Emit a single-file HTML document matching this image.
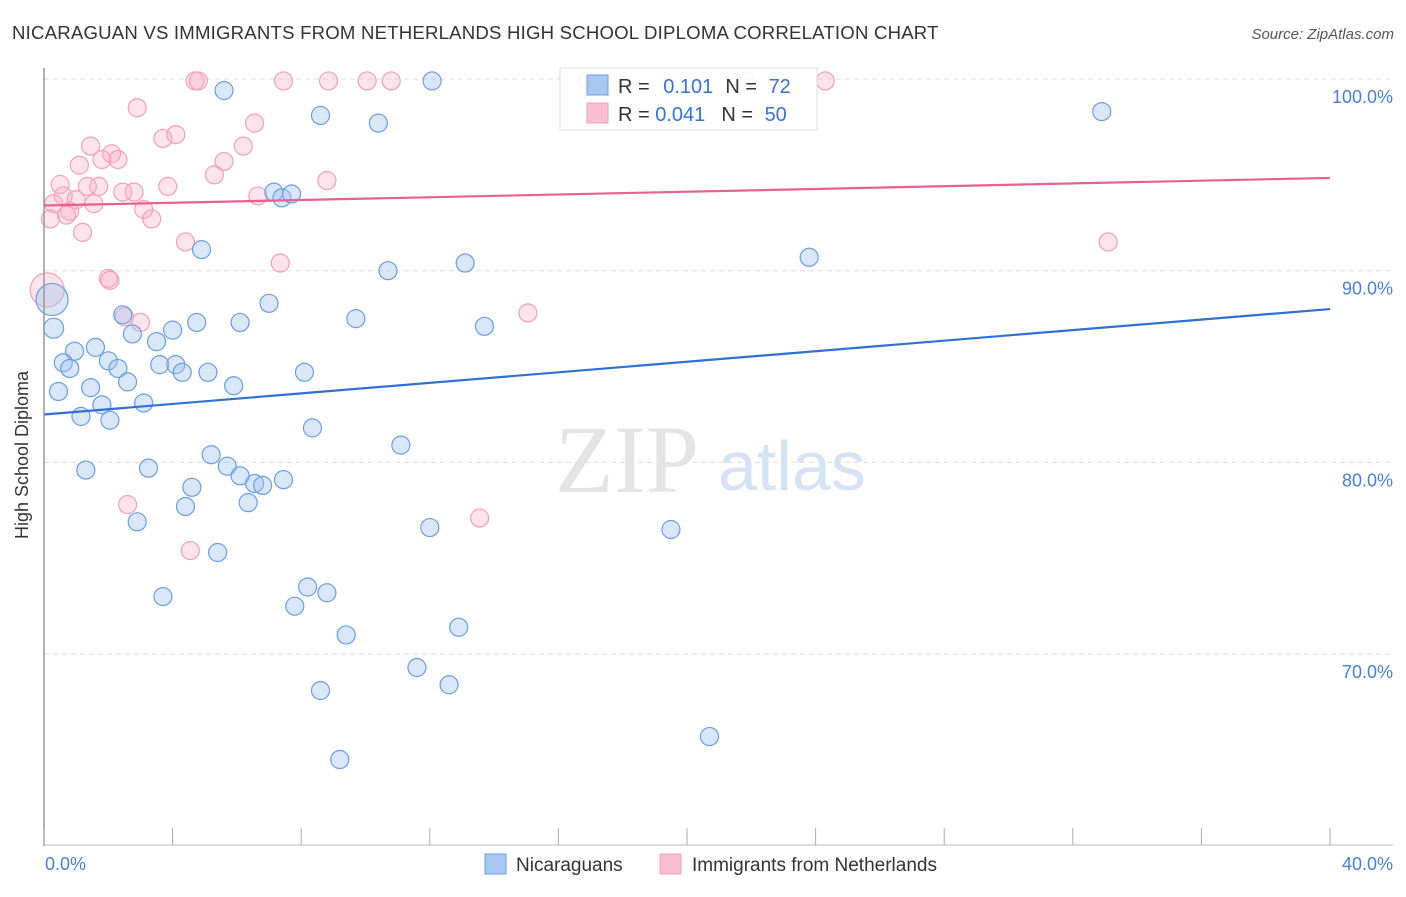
<!DOCTYPE html>
<html><head><meta charset="utf-8"><style>
body{margin:0;background:#fff;font-family:"Liberation Sans",sans-serif}
</style></head><body>
<svg width="1406" height="892" xmlns="http://www.w3.org/2000/svg" font-family="Liberation Sans, sans-serif">
<text x="12" y="39" font-size="18.6" fill="#333" letter-spacing="0.2">NICARAGUAN VS IMMIGRANTS FROM NETHERLANDS HIGH SCHOOL DIPLOMA CORRELATION CHART</text>
<text x="1394" y="39" font-size="15" fill="#555" font-style="italic" text-anchor="end">Source: ZipAtlas.com</text>
<g id="grid"></g>
<text x="555" y="492" font-size="96" fill="#e4e4e4" font-family="Liberation Serif, serif">ZIP</text>
<text x="718" y="490" font-size="70" fill="#d6e3f5">atlas</text>
<g id="pts"></g>
<g id="lines"></g>
<line x1="44" y1="68" x2="44" y2="846" stroke="#999" stroke-width="1.5"/>
<line x1="44" y1="845" x2="1393" y2="845" stroke="#bbb" stroke-width="1"/>
<g id="ticks"></g>
<text x="28" y="455" font-size="18" fill="#333" text-anchor="middle" transform="rotate(-90 28 455)">High School Diploma</text>
<g>
<rect x="560" y="68" width="257" height="62" fill="#fff" fill-opacity="0.9" stroke="#ddd"/>
<rect x="587" y="75" width="21" height="20" fill="#a8c8f2" stroke="#6a9ee0"/>
<rect x="587" y="103" width="21" height="20" fill="#f8c0d0" stroke="#f0a0b8"/>
<text x="618" y="93" font-size="20" fill="#333">R = <tspan fill="#3a72d0" dx="8">0.101</tspan><tspan fill="#333" dx="12">N = </tspan><tspan fill="#3a72d0" dx="6">72</tspan></text>
<text x="618" y="121" font-size="20" fill="#333">R = <tspan fill="#3a72d0">0.041</tspan><tspan fill="#333" dx="16">N = </tspan><tspan fill="#3a72d0" dx="6">50</tspan></text>
</g>
<g>
<rect x="485" y="854" width="21" height="20" fill="#a8c8f2" stroke="#6a9ee0"/>
<text x="516" y="871" font-size="19" fill="#333">Nicaraguans</text>
<rect x="660" y="854" width="21" height="20" fill="#f8c0d0" stroke="#f0a0b8"/>
<text x="692" y="871" font-size="19" fill="#333">Immigrants from Netherlands</text>
</g>
</svg>
<script>
const yTicks=[100,90,80,70];
const yTickLabels=["100.0%","90.0%","80.0%","70.0%"];
const xTickValues=[0,4,8,12,16,20,24,28,32,36,40];
const xEndLabels=["0.0%","40.0%"];
const blueX=[5.6,12.07,21.8,16.9,8.6,10.4,32.9,7.15,7.4,7.7,4.9,23.8,13.1,10.7,7.0,0.25,0.3,2.45,9.7,4.75,6.1,4.0,2.75,13.7,3.5,1.6,0.95,0.6,2.0,3.6,4.1,4.3,0.8,2.3,5.1,8.1,2.6,5.9,1.45,0.45,3.1,1.8,1.15,2.05,8.35,11.1,5.2,5.7,1.3,3.25,6.1,6.55,7.45,6.8,4.6,4.4,6.35,2.9,12.0,19.5,5.4,3.7,8.2,8.8,7.8,9.4,12.9,11.6,8.6,12.6,20.7,9.2];
const blueY=[99.4,99.9,99.9,99.9,98.1,97.7,98.3,94.1,93.8,94.0,91.1,90.7,90.4,90.0,88.3,88.5,87.0,87.7,87.5,87.3,87.3,86.9,86.7,87.1,86.3,86.0,85.8,85.2,85.3,85.1,85.1,84.7,84.9,84.9,84.7,84.7,84.2,84.0,83.9,83.7,83.1,83.0,82.4,82.2,81.8,80.9,80.4,79.8,79.6,79.7,79.3,78.9,79.1,78.8,78.7,77.7,77.9,76.9,76.6,76.5,75.3,73.0,73.5,73.2,72.5,71.0,71.4,69.3,68.1,68.4,65.7,64.5];
const blueBig=[15,16];
const pinkX=[4.7,4.8,7.45,8.85,10.05,10.8,24.3,2.9,3.7,4.1,6.55,6.2,1.45,2.1,1.8,2.3,5.6,1.1,5.3,8.8,0.5,1.35,1.7,3.85,2.45,2.8,6.65,0.6,1.0,0.3,1.55,3.1,0.8,0.7,3.35,0.2,1.2,4.4,33.1,7.35,2.0,2.05,2.5,3.0,15.05,0.1,2.6,13.55,4.55];
const pinkY=[99.9,99.9,99.9,99.9,99.9,99.9,99.9,98.5,96.9,97.1,97.7,96.5,96.5,96.1,95.8,95.8,95.7,95.5,95.0,94.7,94.5,94.4,94.4,94.4,94.1,94.1,93.9,93.9,93.7,93.5,93.5,93.2,93.1,92.9,92.7,92.7,92.0,91.5,91.5,90.4,89.6,89.5,87.6,87.3,87.8,89.0,77.8,77.1,75.4];
const pinkBig=[45];
const blueTrend=[82.5,88.0];
const pinkTrend=[93.4,94.84];
const NS="http://www.w3.org/2000/svg";
const X=v=>44+v/40*1286;
const Y=v=>79+(100-v)*19.17;
function mk(tag,attrs,parent){const e=document.createElementNS(NS,tag);for(const k in attrs)e.setAttribute(k,attrs[k]);parent.appendChild(e);return e;}
const grid=document.getElementById('grid'),ticks=document.getElementById('ticks');
yTicks.forEach((t,i)=>{
  const l=mk('line',{x1:44,x2:1393,y1:Y(t),y2:Y(t),stroke:'#ddd','stroke-dasharray':'5,4'},grid);
  
  
  const tx=mk('text',{x:1393,y:Y(t)+24,'font-size':18,fill:'#4a7fd4','text-anchor':'end'},ticks);
  tx.textContent=yTickLabels[i];
  
  
});
xTickValues.forEach(v=>{
  const l=mk('line',{x1:X(v),x2:X(v),y1:828,y2:845,stroke:'#aaa'},ticks);
  
  
});
const t0=mk('text',{x:45,y:870,'font-size':18,fill:'#4a7fd4'},ticks);t0.textContent=xEndLabels[0];


const t1=mk('text',{x:1393,y:870,'font-size':18,fill:'#4a7fd4','text-anchor':'end'},ticks);t1.textContent=xEndLabels[1];


const pts=document.getElementById('pts');
pinkX.forEach((x,i)=>{
  const c=mk('circle',{cx:X(x),cy:Y(pinkY[i]),r:pinkBig.includes(i)?17:9,fill:'rgba(248,175,198,0.35)',stroke:'#f0a0b8','stroke-width':1.2},pts);
  
  
});
blueX.forEach((x,i)=>{
  const c=mk('circle',{cx:X(x),cy:Y(blueY[i]),r:blueBig.includes(i)?(i==15?16:10):9,fill:'rgba(160,196,240,0.4)',stroke:'#6a9ee0','stroke-width':1.2},pts);
  
  
});
const lines=document.getElementById('lines');
const bl=mk('line',{x1:X(0),x2:X(40),y1:Y(blueTrend[0]),y2:Y(blueTrend[1]),stroke:'#2f6fd6','stroke-width':2.2},lines);


const pl=mk('line',{x1:X(0),x2:X(40),y1:Y(pinkTrend[0]),y2:Y(pinkTrend[1]),stroke:'#e8608e','stroke-width':2.2},lines);


</script>
</body></html>
